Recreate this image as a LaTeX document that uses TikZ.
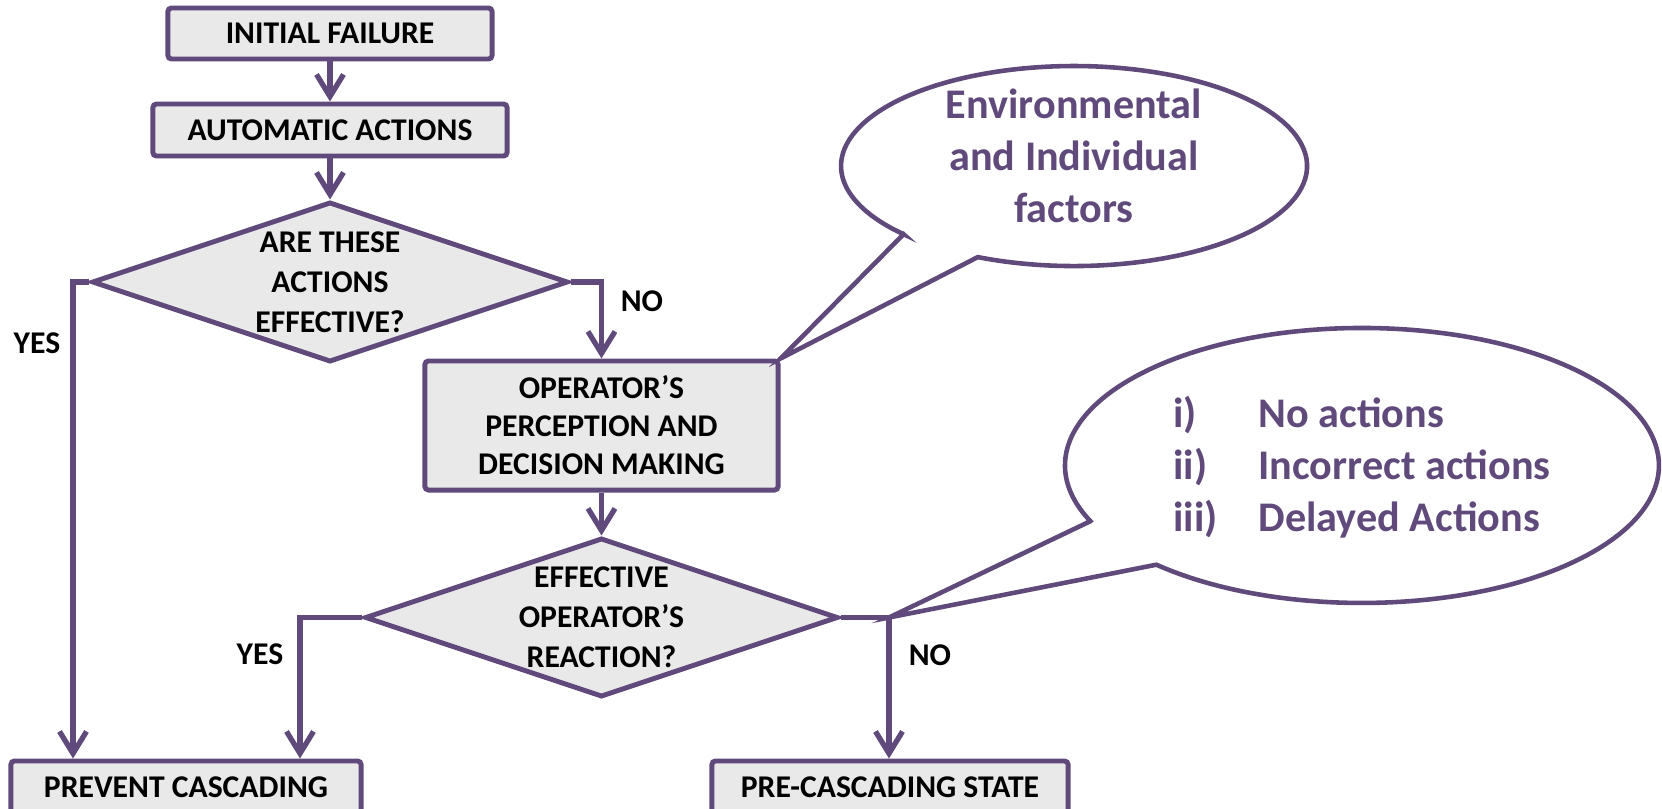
\documentclass[tikz,border=0pt]{standalone}
\usepackage{fontspec}
\setmainfont{Carlito}
\usetikzlibrary{shapes.geometric,arrows.meta}
\definecolor{plum}{RGB}{96,74,123}
\definecolor{granite}{RGB}{233,233,233}
\begin{document}
\begin{tikzpicture}[x=0.01cm, y=-0.01cm,
    box/.style={draw=plum, line width=1.4pt, fill=granite, rectangle, rounded corners=1pt, inner sep=0pt, align=center, font=\fontsize{9}{10.8}\selectfont\bfseries},
    decision/.style={draw=plum, line width=1.4pt, fill=granite, diamond, aspect=3, inner sep=0pt, align=center, font=\fontsize{9}{11.4}\selectfont\bfseries},
    flow/.style={draw=plum, line width=1.5pt, -{Straight Barb[length=0.22cm, width=0.27cm]}},
    bubble/.style={draw=plum, line width=1.3pt, fill=white, line join=miter},
    bubbletext/.style={text=plum, font=\fontsize{12}{14.8}\selectfont\bfseries},
    answer/.style={font=\fontsize{9}{10}\selectfont\bfseries}]
    \useasboundingbox (0,0) rectangle (1662,809);

    \node[box, minimum width=3.24cm, minimum height=0.51cm] (init) at (330,33.5) {INITIAL FAILURE};
    \node[box, minimum width=3.54cm, minimum height=0.52cm] (auto) at (330,130) {AUTOMATIC ACTIONS};
    \node[decision, minimum width=4.76cm, minimum height=1.6cm] (check) at (330,282) {ARE THESE\\ACTIONS\\EFFECTIVE?};
    \node[box, minimum width=3.53cm, minimum height=1.29cm] (oper) at (601.5,425.5) {OPERATOR’S\\PERCEPTION AND\\DECISION MAKING};
    \node[decision, minimum width=4.73cm, minimum height=1.59cm] (react) at (601.5,617.5) {EFFECTIVE\\OPERATOR’S\\REACTION?};
    \node[box, minimum width=3.5cm, minimum height=0.52cm] (prevent) at (186,787) {PREVENT CASCADING};
    \node[box, minimum width=3.56cm, minimum height=0.52cm] (precasc) at (890,787) {PRE-CASCADING STATE};

    \coordinate (yesA) at (73,282);
    \coordinate (yesB) at (300,617.5);
    \coordinate (noB) at (889,617.5);

    \draw[flow] (init) -- (auto);
    \draw[flow] (auto) -- (check);
    \draw[flow] (check.west) -- (yesA) -- (yesA |- prevent.north);
    \draw[flow] (check.east) -| (oper.north);
    \draw[flow] (oper) -- (react);
    \draw[flow] (react.west) -- (yesB) -- (yesB |- prevent.north);
    \draw[flow] (react.east) -- (noB) -- (noB |- precasc.north);

    \node[answer] (yes1) at (37,343) {YES};
    \node[answer] (no1) at (642,301) {NO};
    \node[answer] (yes2) at (260,654) {YES};
    \node[answer] (no2) at (930,655) {NO};

    \draw[bubble] (903.6,234.2) -- (oper.north east) -- (977.8,257.1) arc[start angle=114.4, end angle=-223, x radius=233, y radius=100] -- cycle;
    \node[bubbletext, align=center] (factors) at (1074,156) {Environmental\\and Individual\\factors};
    \draw[bubble] (1090.4,521.2) -- (noB) -- (1156.4,564.7) arc[start angle=133.8, end angle=-203.9, x radius=297, y radius=137.5] -- cycle;
    \node[bubbletext, align=left] (errors) at (1362,467) {\makebox[0.85cm][l]{i)}No actions\\\makebox[0.85cm][l]{ii)}Incorrect actions\\\makebox[0.85cm][l]{iii)}Delayed Actions};
\end{tikzpicture}
\end{document}
